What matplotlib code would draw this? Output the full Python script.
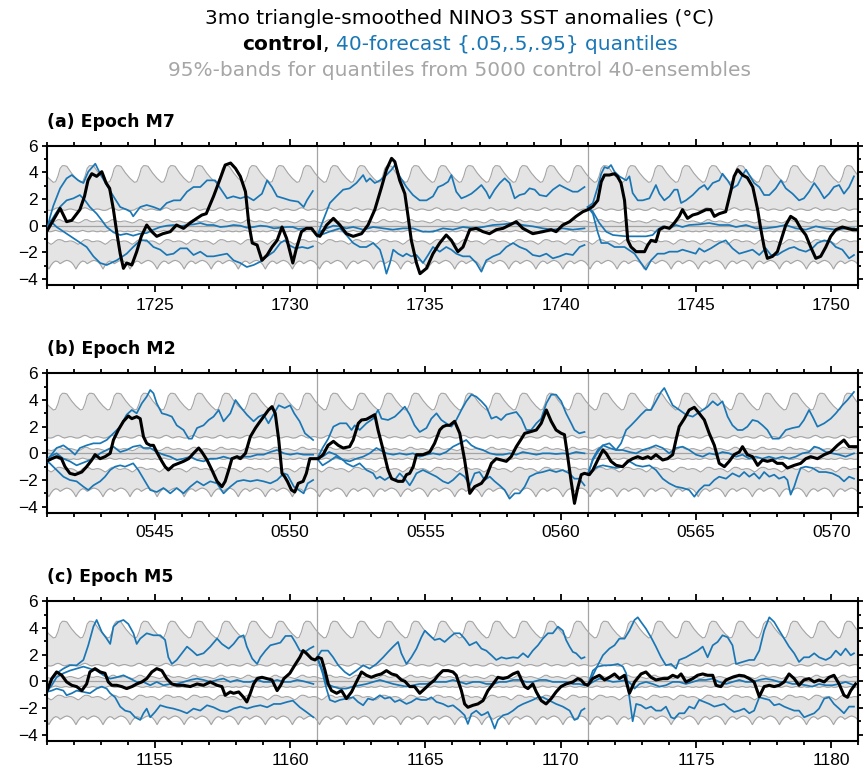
import numpy as np
import matplotlib
matplotlib.use("Agg")
import matplotlib.pyplot as plt
from matplotlib.ticker import MultipleLocator, FuncFormatter

BLUE = "#1a77b6"
FILL = "#e4e4e4"
EDGE = "#a4a4a4"
GRAYTXT = "#a6a6a6"

# monthly climatology (Jan..Dec) of the 95%-band edges, identical in all panels
band_up_hi = [3.75, 3.55, 3.4, 3.25, 3.3, 3.7, 4.3, 4.5, 4.5, 4.45, 4.2, 3.95]
band_up_lo = [1.2, 1.15, 1.15, 1.2, 1.3, 1.35, 1.3, 1.2, 1.15, 1.2, 1.25, 1.25]
band_md_hi = [0.3, 0.25, 0.2, 0.25, 0.35, 0.45, 0.45, 0.35, 0.3, 0.3, 0.35, 0.35]
band_md_lo = [-0.4, -0.45, -0.45, -0.4, -0.35, -0.4, -0.45, -0.45, -0.4, -0.4, -0.45, -0.45]
band_lo_hi = [-1.2, -1.3, -1.4, -1.3, -1.15, -1.05, -1.05, -1.1, -1.2, -1.2, -1.15, -1.15]
band_lo_lo = [-2.95, -3.25, -2.95, -2.75, -2.65, -2.7, -2.85, -2.75, -2.65, -2.6, -2.65, -2.75]

# ---------------- (a) Epoch M7 ----------------
a_ctl = [(1721.0,-0.45),(1721.5,1.3),(1721.74,0.3),(1721.93,0.4),(1722.23,1.2),(1722.4,2.2),(1722.53,3.4),
         (1722.67,3.9),(1722.85,3.7),(1723.04,4.05),(1723.2,3.2),(1723.33,2.8),(1723.47,1.2),(1723.6,-0.6),
         (1723.72,-2.1),(1723.84,-3.2),(1723.96,-2.8),(1724.15,-2.95),(1724.33,-1.95),(1724.5,-0.8),(1724.7,0.05),
         (1724.89,-0.45),(1725.07,-0.8),(1725.3,-0.6),(1725.57,-0.45),(1725.8,0.05),(1726.06,-0.2),(1726.3,0.2),
         (1726.55,0.55),(1726.74,0.8),(1726.9,0.9),(1727.17,2.2),(1727.42,3.55),(1727.6,4.55),(1727.8,4.7),
         (1727.98,4.3),(1728.16,3.7),(1728.35,2.55),(1728.47,0.2),(1728.6,-1.3),(1728.78,-1.45),(1728.96,-2.6),
         (1729.15,-2.2),(1729.33,-1.6),(1729.52,-1.1),(1729.7,-0.1),(1729.87,-0.95),(1730.1,-2.8),(1730.22,-1.8),
         (1730.42,-0.45),(1730.6,-0.2),(1730.79,-0.2),(1730.98,-0.7),(1731.1,-0.8),(1731.35,0.05),(1731.6,0.55),
         (1731.84,0.05),(1732.08,-0.6),(1732.33,-0.8),(1732.64,-0.6),(1732.88,0.05),(1733.13,1.2),(1733.38,2.9),
         (1733.56,4.2),(1733.75,5.05),(1733.87,4.8),(1734.05,3.4),(1734.24,2.4),(1734.36,0.7),(1734.48,-1.1),
         (1734.67,-2.8),(1734.8,-3.6),(1735.04,-3.2),(1735.28,-2.1),(1735.53,-1.3),(1735.77,-0.7),(1735.96,-1.1),
         (1736.2,-1.95),(1736.39,-1.6),(1736.64,-0.3),(1736.88,-0.2),(1737.13,-0.45),(1737.37,-0.6),(1737.62,-0.3),
         (1737.87,-0.2),(1738.11,0.05),(1738.36,0.3),(1738.6,-0.2),(1738.97,-0.6),(1739.34,-0.45),(1739.65,-0.3),
         (1739.83,-0.45),(1740.08,0.05),(1740.33,0.3),(1740.57,0.7),(1740.82,1.05),(1741.0,1.2),(1741.19,1.45),
         (1741.37,1.9),(1741.5,3.3),(1741.62,3.8),(1741.8,3.8),(1741.99,3.9),(1742.1,3.7),(1742.23,3.2),
         (1742.36,1.9),(1742.48,-1.1),(1742.6,-1.6),(1742.79,-1.95),(1743.1,-1.95),(1743.22,-1.45),(1743.34,-1.1),
         (1743.52,-1.2),(1743.65,-0.3),(1743.83,-0.1),(1744.02,-0.2),(1744.2,0.2),(1744.38,0.7),(1744.5,1.2),
         (1744.69,0.55),(1744.88,0.8),(1745.06,0.9),(1745.37,1.2),(1745.55,1.2),(1745.68,0.7),(1745.86,0.9),
         (1746.1,1.05),(1746.3,2.7),(1746.41,3.7),(1746.54,4.2),(1746.72,3.8),(1746.9,3.6),(1747.1,2.9),
         (1747.28,1.2),(1747.4,-0.3),(1747.52,-1.6),(1747.64,-2.45),(1747.83,-2.3),(1748.01,-1.95),(1748.14,-1.1),
         (1748.32,0.05),(1748.5,0.7),(1748.69,0.45),(1748.87,-0.2),(1749.06,-0.7),(1749.24,-1.6),(1749.43,-2.45),
         (1749.61,-2.3),(1749.8,-1.6),(1749.98,-0.8),(1750.17,-0.3),(1750.41,-0.1),(1750.6,-0.2),(1750.78,-0.3),
         (1750.97,-0.3)]

a1_hi = [(1721.0,-0.45),(1721.12,0.6),(1721.25,1.5),(1721.5,2.8),(1721.74,3.55),(1721.93,3.8),(1722.17,3.4),
         (1722.36,3.2),(1722.54,4.05),(1722.8,4.65),(1722.98,3.9),(1723.22,3.05),(1723.47,2.2),(1723.72,1.4),
         (1723.96,1.2),(1724.1,1.05),(1724.2,0.7),(1724.46,1.4),(1724.7,1.55),(1724.95,1.4),(1725.2,1.2),
         (1725.44,1.7),(1725.7,1.9),(1725.94,1.9),(1726.19,2.55),(1726.43,2.9),(1726.68,2.9),(1726.93,3.4),
         (1727.23,3.4),(1727.42,2.8),(1727.67,2.05),(1727.9,2.2),(1728.16,2.05),(1728.4,2.2),(1728.65,1.9),
         (1728.96,2.4),(1729.15,3.4),(1729.33,2.9),(1729.52,2.2),(1729.77,2.05),(1730.0,1.9),(1730.3,1.8),
         (1730.5,1.4),(1730.62,1.9),(1730.84,2.6)]
a1_md = [(1721.0,-0.45),(1721.12,0.2),(1721.3,0.8),(1721.49,1.4),(1721.74,1.9),(1721.99,2.05),(1722.23,2.3),
         (1722.42,1.9),(1722.6,1.4),(1722.85,0.9),(1723.04,0.4),(1723.22,-0.1),(1723.47,-0.5),(1723.72,-0.7),
         (1723.96,-0.6),(1724.2,-0.75),(1724.45,-0.6),(1724.7,-0.55),(1724.95,-0.3),(1725.2,-0.1),(1725.45,0.0),
         (1725.7,0.05),(1725.95,-0.05),(1726.19,0.05),(1726.44,0.1),(1726.68,0.2),(1726.93,0.05),(1727.17,0.05),
         (1727.42,-0.1),(1727.67,-0.05),(1727.91,0.05),(1728.16,0.0),(1728.4,-0.15),(1728.65,-0.1),(1728.9,0.0),
         (1729.15,-0.05),(1729.4,-0.2),(1729.64,-0.15),(1729.9,-0.1),(1730.1,-0.1),(1730.3,-0.25),(1730.5,-0.2),
         (1730.84,-0.25)]
a1_lo = [(1721.0,-0.45),(1721.12,0.4),(1721.37,-0.1),(1721.74,-0.6),(1722.11,-1.1),(1722.48,-1.6),(1722.73,-2.3),
         (1722.98,-2.8),(1723.22,-2.95),(1723.59,-2.6),(1723.96,-2.1),(1724.2,-1.6),(1724.46,-1.1),(1724.7,-1.1),
         (1724.95,-1.6),(1725.2,-1.8),(1725.44,-2.2),(1725.69,-2.1),(1725.94,-1.7),(1726.19,-1.7),(1726.43,-2.2),
         (1726.68,-1.95),(1726.93,-2.3),(1727.17,-2.3),(1727.42,-2.2),(1727.67,-2.1),(1727.91,-2.6),(1728.16,-2.8),
         (1728.4,-3.1),(1728.65,-2.95),(1728.9,-2.7),(1729.15,-2.3),(1729.4,-1.95),(1729.64,-1.3),(1729.8,-1.1),
         (1730.0,-1.5),(1730.2,-1.7),(1730.45,-1.6),(1730.65,-1.7),(1730.84,-1.55)]
a2_hi = [(1731.0,-0.8),(1731.22,0.4),(1731.47,1.7),(1731.71,2.2),(1731.96,2.7),(1732.2,2.8),(1732.45,3.2),
         (1732.7,3.8),(1732.82,3.3),(1732.95,3.55),(1733.13,3.2),(1733.32,3.4),(1733.56,3.8),(1733.75,4.2),
         (1733.87,4.55),(1734.05,3.7),(1734.3,2.9),(1734.54,2.3),(1734.79,1.9),(1735.04,1.9),(1735.28,2.2),
         (1735.47,2.9),(1735.65,3.05),(1735.84,3.3),(1735.96,3.8),(1736.14,2.55),(1736.33,2.05),(1736.51,2.2),
         (1736.7,2.4),(1736.88,2.7),(1737.07,3.05),(1737.25,2.55),(1737.37,2.05),(1737.56,2.7),(1737.75,3.2),
         (1737.93,3.55),(1738.11,3.2),(1738.3,2.05),(1738.48,2.3),(1738.67,2.4),(1738.85,2.8),(1739.04,2.7),
         (1739.22,2.3),(1739.47,2.2),(1739.71,2.7),(1739.96,3.05),(1740.2,2.8),(1740.45,2.55),(1740.63,2.55),
         (1740.88,2.9)]
a2_md = [(1731.0,-0.8),(1731.1,-0.45),(1731.35,-0.2),(1731.6,0.0),(1731.84,-0.05),(1732.08,-0.2),(1732.33,-0.1),
         (1732.7,-0.3),(1733.07,-0.1),(1733.44,-0.2),(1733.8,-0.3),(1734.17,-0.2),(1734.54,-0.2),(1734.91,-0.45),
         (1735.28,-0.45),(1735.65,-0.2),(1736.02,-0.3),(1736.39,-0.1),(1736.76,-0.2),(1737.13,-0.1),(1737.5,0.05),
         (1737.87,0.1),(1738.24,0.2),(1738.6,0.05),(1738.97,-0.05),(1739.34,-0.2),(1739.71,-0.3),(1740.08,-0.2),
         (1740.45,-0.3),(1740.88,-0.2)]
a2_lo = [(1731.0,-0.8),(1731.45,-0.45),(1731.84,-0.2),(1732.08,-0.7),(1732.33,-1.3),(1732.58,-1.6),(1732.82,-1.6),
         (1733.07,-1.3),(1733.32,-1.8),(1733.44,-2.6),(1733.56,-3.6),(1733.69,-2.8),(1733.81,-1.8),(1733.99,-2.1),
         (1734.17,-2.3),(1734.3,-2.1),(1734.48,-2.3),(1734.67,-2.2),(1734.91,-2.8),(1735.1,-2.2),(1735.28,-1.6),
         (1735.53,-1.95),(1735.77,-1.6),(1735.96,-1.8),(1736.14,-2.1),(1736.39,-2.3),(1736.64,-2.3),(1736.88,-2.8),
         (1737.07,-3.45),(1737.25,-2.6),(1737.5,-2.3),(1737.75,-2.1),(1737.99,-1.6),(1738.24,-1.3),(1738.48,-1.6),
         (1738.73,-1.8),(1738.97,-2.2),(1739.22,-2.3),(1739.47,-2.1),(1739.71,-2.45),(1739.96,-2.3),(1740.2,-2.1),
         (1740.45,-2.2),(1740.7,-1.6),(1740.88,-1.45)]
a3_hi = [(1741.0,1.4),(1741.19,1.7),(1741.37,2.9),(1741.5,3.9),(1741.62,4.4),(1741.74,4.3),(1741.86,4.55),
         (1741.99,4.05),(1742.17,3.7),(1742.42,3.4),(1742.54,3.7),(1742.66,2.45),(1742.85,1.9),(1743.03,1.9),
         (1743.28,2.05),(1743.52,3.05),(1743.65,2.4),(1743.83,1.9),(1744.02,2.2),(1744.2,2.7),(1744.32,2.7),
         (1744.45,1.7),(1744.63,1.9),(1744.88,2.3),(1745.12,2.8),(1745.31,3.05),(1745.43,2.7),(1745.62,3.2),
         (1745.86,3.4),(1745.98,3.9),(1746.17,3.4),(1746.35,2.8),(1746.54,3.05),(1746.72,3.8),(1746.85,4.2),
         (1746.97,3.8),(1747.15,3.2),(1747.34,2.9),(1747.52,2.3),(1747.71,2.3),(1747.95,2.8),(1748.14,3.4),
         (1748.32,2.8),(1748.57,2.4),(1748.81,1.9),(1748.99,2.05),(1749.18,2.55),(1749.37,3.2),(1749.55,2.7),
         (1749.74,2.05),(1749.92,2.4),(1750.1,2.9),(1750.29,3.05),(1750.47,2.4),(1750.66,2.9),(1750.84,3.7)]
a3_md = [(1741.0,1.4),(1741.19,1.05),(1741.43,0.2),(1741.68,-0.45),(1741.93,-0.7),(1742.17,-0.75),(1742.42,-0.8),
         (1742.79,-0.8),(1743.15,-0.8),(1743.4,-0.7),(1743.58,-0.3),(1743.77,-0.05),(1744.02,-0.2),(1744.26,0.05),
         (1744.5,-0.1),(1744.75,0.05),(1745.12,0.1),(1745.49,0.2),(1745.86,0.05),(1746.23,0.05),(1746.48,-0.1),
         (1746.85,0.05),(1747.21,-0.2),(1747.58,-0.2),(1747.95,-0.1),(1748.32,0.05),(1748.69,-0.2),(1749.06,-0.3),
         (1749.43,-0.05),(1749.8,-0.2),(1750.17,-0.3),(1750.54,-0.2),(1750.84,-0.2)]
a3_lo = [(1741.0,1.4),(1741.19,0.9),(1741.37,-0.5),(1741.5,-1.3),(1741.74,-1.3),(1741.99,-1.6),(1742.36,-1.6),
         (1742.73,-2.1),(1742.97,-2.8),(1743.15,-3.3),(1743.34,-2.6),(1743.58,-2.1),(1743.83,-2.1),(1744.02,-1.95),
         (1744.32,-1.95),(1744.5,-1.8),(1744.75,-1.95),(1744.99,-2.1),(1745.12,-1.7),(1745.31,-1.95),(1745.55,-1.7),
         (1745.86,-1.3),(1746.1,-1.1),(1746.35,-1.7),(1746.6,-2.1),(1746.85,-1.95),(1747.09,-1.8),(1747.34,-2.2),
         (1747.58,-1.7),(1747.77,-2.2),(1748.01,-2.2),(1748.2,-1.95),(1748.44,-1.7),(1748.63,-1.6),(1748.81,-1.8),
         (1749.06,-1.95),(1749.3,-1.7),(1749.49,-1.3),(1749.74,-1.1),(1749.98,-1.2),(1750.17,-1.6),(1750.41,-1.8),
         (1750.66,-2.45),(1750.84,-2.2)]

# ---------------- (b) Epoch M2 ----------------
b_ctl = [(541.0,-0.6),(541.19,-0.4),(541.37,-0.25),(541.55,-0.4),(541.68,-1.0),(541.86,-1.5),(542.05,-1.6),
         (542.3,-1.4),(542.48,-1.0),(542.67,-0.5),(542.79,-0.1),(542.98,-0.4),(543.16,-0.25),(543.35,0.0),
         (543.47,1.0),(543.65,1.75),(543.84,2.4),(544.02,2.8),(544.15,2.6),(544.33,2.75),(544.46,2.6),(544.58,1.25),
         (544.7,0.75),(544.83,0.6),(544.95,0.6),(545.07,0.1),(545.26,-0.6),(545.38,-1.0),(545.5,-1.25),(545.69,-0.9),
         (545.87,-0.75),(546.06,-0.6),(546.25,-0.4),(546.43,0.0),(546.62,0.4),(546.74,0.1),(546.93,-0.5),
         (547.11,-1.25),(547.3,-2.1),(547.48,-2.5),(547.6,-2.1),(547.73,-1.25),(547.85,-0.4),(548.04,-0.25),
         (548.16,-0.4),(548.35,0.0),(548.53,1.25),(548.72,1.9),(548.84,2.25),(549.02,2.75),(549.2,3.25),(549.33,3.5),
         (549.45,3.0),(549.58,1.0),(549.7,-1.5),(549.8,-1.75),(549.9,-2.1),(550.05,-2.75),(550.17,-2.9),
         (550.3,-2.25),(550.48,-2.1),(550.6,-1.5),(550.73,-0.4),(550.91,-0.4),(551.04,-0.4),(551.22,-0.1),
         (551.4,0.6),(551.6,0.9),(551.78,0.6),(551.96,0.4),(552.2,0.5),(552.33,1.0),(552.52,2.25),(552.64,2.5),
         (552.82,2.55),(553.0,2.75),(553.13,2.9),(553.25,1.75),(553.44,0.25),(553.62,-1.25),(553.75,-1.9),
         (553.99,-2.1),(554.17,-2.1),(554.3,-1.6),(554.42,-1.5),(554.55,-1.0),(554.67,-0.1),(554.91,-0.1),
         (555.16,0.1),(555.34,0.75),(555.53,1.75),(555.65,2.0),(555.77,2.1),(555.9,2.1),(556.08,2.4),(556.27,1.5),
         (556.45,-0.5),(556.64,-3.0),(556.82,-2.5),(557.07,-2.25),(557.25,-1.75),(557.44,-0.75),(557.62,-0.4),
         (557.8,-0.5),(557.99,-0.6),(558.17,-0.25),(558.36,0.5),(558.55,1.1),(558.67,1.5),(558.85,1.6),(559.1,1.75),
         (559.28,2.25),(559.47,3.25),(559.65,2.4),(559.83,1.75),(560.02,1.5),(560.14,1.4),(560.26,-0.25),
         (560.38,-2.0),(560.51,-3.75),(560.63,-2.6),(560.76,-1.6),(560.88,-1.5),(561.06,-1.6),(561.19,-1.25),
         (561.37,-0.5),(561.56,0.25),(561.68,0.0),(561.86,-0.6),(562.05,-0.9),(562.29,-1.0),(562.48,-0.6),
         (562.66,-0.4),(562.85,-0.25),(563.03,-0.4),(563.22,-0.25),(563.34,-0.4),(563.52,-0.1),(563.77,-0.5),
         (563.95,-0.4),(564.14,-0.1),(564.26,1.0),(564.38,2.0),(564.57,2.6),(564.75,3.25),(564.94,3.45),
         (565.12,3.0),(565.31,2.5),(565.49,1.5),(565.68,0.6),(565.86,-0.75),(566.05,-1.0),(566.23,-0.6),
         (566.41,-0.1),(566.6,0.1),(566.72,0.5),(566.9,-0.1),(567.09,-0.25),(567.28,-0.9),(567.46,-0.5),
         (567.64,-0.6),(567.83,-0.5),(568.0,-0.75),(568.2,-0.75),(568.38,-1.1),(568.63,-0.9),(568.87,-0.75),
         (569.06,-0.4),(569.24,-0.25),(569.49,-0.4),(569.74,-0.1),(569.98,0.1),(570.23,0.6),(570.47,1.0),
         (570.66,0.5),(570.9,0.5)]

b1_hi = [(541.0,-0.6),(541.12,-0.25),(541.37,0.4),(541.62,0.6),(541.86,0.25),(542.05,-0.1),(542.23,0.4),
         (542.48,0.6),(542.73,0.75),(542.98,0.75),(543.22,1.0),(543.47,1.5),(543.72,2.0),(543.96,2.9),(544.15,3.25),
         (544.33,3.0),(544.52,3.75),(544.7,4.25),(544.83,4.75),(544.95,4.5),(545.07,3.75),(545.26,3.0),
         (545.44,2.9),(545.63,2.75),(545.81,2.1),(546.06,1.75),(546.25,1.1),(546.37,1.1),(546.56,1.9),(546.8,2.1),
         (546.99,2.5),(547.17,2.75),(547.36,3.25),(547.54,2.4),(547.79,3.0),(547.98,4.0),(548.16,3.5),(548.4,2.9),
         (548.65,2.4),(548.84,2.75),(549.02,2.9),(549.2,2.25),(549.38,2.9),(549.58,3.6),(549.8,3.4),(550.0,3.6),
         (550.15,3.0),(550.35,2.4),(550.55,1.5),(550.85,1.0)]
b1_md = [(541.0,-0.6),(541.12,-0.25),(541.37,0.0),(541.62,-0.4),(541.86,-0.6),(542.11,-0.9),(542.48,-0.6),
         (542.73,-0.4),(542.98,0.0),(543.22,0.25),(543.47,0.5),(543.72,0.1),(543.96,0.25),(544.2,0.5),(544.46,0.6),
         (544.58,0.4),(544.83,0.4),(545.07,0.1),(545.32,-0.1),(545.57,-0.25),(545.81,-0.5),(546.06,-0.4),
         (546.31,-0.25),(546.56,-0.5),(546.8,-0.6),(547.05,-0.4),(547.3,-0.4),(547.54,-0.25),(547.79,-0.4),
         (548.04,-0.25),(548.28,-0.25),(548.53,-0.25),(548.78,-0.1),(549.02,-0.1),(549.27,0.1),(549.52,0.25),
         (549.77,0.0),(550.01,-0.1),(550.26,0.0),(550.5,-0.1),(550.85,-0.1)]
b1_lo = [(541.0,-0.6),(541.12,-0.75),(541.37,-1.25),(541.62,-1.75),(541.86,-2.0),(542.11,-2.1),(542.36,-2.5),
         (542.54,-2.75),(542.73,-2.4),(542.98,-2.1),(543.16,-1.75),(543.35,-1.25),(543.53,-1.0),(543.72,-0.9),
         (543.9,-1.0),(544.02,-0.9),(544.2,-0.75),(544.39,-1.25),(544.58,-1.9),(544.83,-2.75),(545.07,-2.9),
         (545.32,-2.6),(545.57,-3.0),(545.81,-2.6),(546.06,-3.0),(546.31,-2.5),(546.56,-2.1),(546.8,-2.4),
         (547.05,-2.1),(547.3,-2.25),(547.54,-3.0),(547.79,-2.5),(548.04,-2.1),(548.28,-2.0),(548.53,-2.1),
         (548.78,-2.0),(549.02,-2.1),(549.27,-2.25),(549.52,-2.0),(549.77,-1.5),(549.9,-1.6),(550.14,-2.5),
         (550.32,-2.75),(550.5,-3.0),(550.65,-2.25),(550.85,-2.0)]
b2_hi = [(551.0,-0.4),(551.2,0.4),(551.41,1.1),(551.6,2.0),(551.84,2.25),(552.08,2.25),(552.27,1.75),(552.39,2.1),
         (552.57,1.75),(552.82,2.25),(553.07,2.6),(553.25,3.25),(553.38,2.6),(553.62,2.5),(553.87,2.75),(554.05,3.1),
         (554.24,3.5),(554.42,2.9),(554.6,2.1),(554.79,1.6),(555.04,1.9),(555.22,2.6),(555.41,3.0),(555.59,2.5),
         (555.77,2.25),(555.96,2.0),(556.14,2.5),(556.33,3.25),(556.51,3.9),(556.7,4.4),(556.88,4.25),(557.07,3.9),
         (557.25,3.5),(557.44,2.6),(557.62,2.75),(557.8,2.5),(557.99,2.9),(558.17,3.0),(558.36,3.1),(558.55,2.6),
         (558.73,1.75),(558.91,1.75),(559.1,2.25),(559.28,2.6),(559.47,3.75),(559.65,4.4),(559.83,4.4),(560.02,3.9),
         (560.2,3.0),(560.39,2.25),(560.51,1.75),(560.69,1.5),(560.88,1.6)]
b2_md = [(551.0,-0.4),(551.2,-0.25),(551.44,0.1),(551.69,-0.1),(551.96,-0.5),(552.2,-0.6),(552.45,-0.4),
         (552.7,-0.25),(552.94,0.0),(553.19,0.4),(553.32,0.25),(553.56,0.0),(553.81,-0.1),(554.05,0.0),(554.3,-0.1),
         (554.54,0.0),(554.79,-0.25),(555.04,-0.1),(555.28,0.0),(555.53,-0.1),(555.77,0.1),(556.02,0.5),
         (556.27,0.75),(556.51,1.0),(556.7,0.6),(556.88,0.4),(557.13,0.25),(557.38,0.0),(557.62,-0.1),(557.87,-0.1),
         (558.11,0.0),(558.36,-0.1),(558.6,0.1),(558.85,0.0),(559.1,-0.1),(559.34,0.0),(559.59,0.0),(559.83,-0.05),
         (560.08,0.0),(560.32,-0.05),(560.57,0.1),(560.88,0.0)]
b2_lo = [(551.0,-0.4),(551.2,-0.9),(551.44,-0.6),(551.69,-0.25),(551.96,-0.5),(552.08,-0.75),(552.33,-1.0),
         (552.57,-0.75),(552.82,-1.25),(553.07,-1.5),(553.19,-1.9),(553.32,-1.75),(553.5,-2.0),(553.69,-1.75),
         (553.87,-2.0),(554.05,-1.5),(554.24,-1.9),(554.42,-2.4),(554.54,-2.0),(554.67,-1.5),(554.91,-1.25),
         (555.16,-1.5),(555.41,-1.75),(555.65,-2.1),(555.84,-2.25),(556.02,-2.0),(556.27,-1.5),(556.45,-1.75),
         (556.64,-2.4),(556.82,-1.5),(557.0,-1.4),(557.19,-2.0),(557.38,-1.75),(557.56,-2.1),(557.74,-2.4),
         (557.93,-2.75),(558.11,-3.4),(558.3,-3.0),(558.48,-3.0),(558.67,-2.5),(558.85,-1.75),(559.1,-1.5),
         (559.34,-1.4),(559.59,-1.25),(559.83,-1.4),(560.08,-1.25),(560.32,-1.5),(560.51,-1.9),(560.69,-1.9),
         (560.88,-2.4)]
b3_hi = [(561.0,-1.6),(561.19,-0.5),(561.37,0.1),(561.56,0.6),(561.8,0.75),(562.05,0.25),(562.23,0.75),
         (562.42,1.75),(562.6,2.1),(562.79,2.5),(562.97,2.9),(563.15,3.25),(563.34,3.25),(563.52,3.9),(563.71,4.6),
         (563.83,4.9),(563.95,4.4),(564.14,3.6),(564.39,3.25),(564.63,2.9),(564.88,2.75),(565.06,3.0),(565.25,3.25),
         (565.43,3.5),(565.62,3.9),(565.8,3.6),(565.98,3.9),(566.17,2.75),(566.35,2.1),(566.54,1.75),(566.72,1.75),
         (566.9,2.0),(567.09,2.5),(567.28,2.4),(567.46,2.1),(567.64,1.75),(567.83,1.1),(568.07,1.1),(568.32,1.75),
         (568.57,1.9),(568.81,2.0),(568.99,2.5),(569.18,3.25),(569.31,2.75),(569.49,2.0),(569.74,2.25),(569.98,2.6),
         (570.17,3.0),(570.41,3.6),(570.6,4.0),(570.84,4.6)]
b3_md = [(561.0,-1.6),(561.19,-0.4),(561.37,0.25),(561.56,0.6),(561.8,0.4),(562.05,0.25),(562.29,0.25),
         (562.54,0.1),(562.79,0.0),(563.03,0.25),(563.28,0.4),(563.52,0.6),(563.77,0.4),(564.01,0.0),(564.26,0.4),
         (564.51,0.5),(564.75,0.25),(565.0,-0.1),(565.25,-0.25),(565.49,0.0),(565.74,-0.1),(565.98,0.1),
         (566.23,0.0),(566.48,-0.25),(566.72,-0.1),(566.97,-0.4),(567.21,-0.25),(567.46,-0.4),(567.7,-0.25),
         (567.95,-0.4),(568.2,-0.25),(568.44,-0.4),(568.69,-0.25),(568.93,0.0),(569.18,0.1),(569.37,0.5),
         (569.55,0.4),(569.8,0.1),(570.04,0.0),(570.29,-0.1),(570.53,-0.25),(570.84,0.0)]
b3_lo = [(561.0,-1.6),(561.19,-1.25),(561.37,-1.0),(561.56,-0.9),(561.8,-1.0),(562.05,-1.1),(562.29,-1.0),
         (562.54,-0.6),(562.79,-0.9),(563.03,-1.0),(563.28,-0.9),(563.52,-1.25),(563.77,-1.9),(564.01,-2.25),
         (564.26,-2.5),(564.51,-2.6),(564.75,-2.75),(564.94,-3.25),(565.12,-2.75),(565.31,-2.4),(565.49,-2.4),
         (565.68,-2.0),(565.86,-1.75),(566.11,-1.9),(566.35,-1.5),(566.6,-1.75),(566.78,-1.4),(566.97,-1.75),
         (567.15,-1.5),(567.34,-1.9),(567.52,-1.4),(567.71,-1.75),(567.89,-1.6),(568.07,-1.9),(568.26,-1.75),
         (568.38,-2.0),(568.5,-3.1),(568.63,-2.5),(568.75,-1.75),(568.87,-1.1),(569.06,-1.0),(569.31,-1.1),
         (569.55,-1.4),(569.8,-1.4),(570.04,-1.5),(570.29,-1.75),(570.47,-2.1),(570.66,-1.75),(570.84,-1.9)]

# ---------------- (c) Epoch M5 ----------------
c_ctl = [(1151.0,-0.8),(1151.19,0.2),(1151.37,0.7),(1151.56,0.45),(1151.74,-0.05),(1151.93,-0.3),(1152.11,-0.4),
         (1152.3,-0.7),(1152.48,-0.2),(1152.6,0.7),(1152.79,0.95),(1152.98,0.7),(1153.16,0.6),(1153.28,-0.05),
         (1153.41,-0.3),(1153.59,-0.3),(1153.78,-0.4),(1153.96,-0.55),(1154.15,-0.4),(1154.33,-0.2),(1154.52,-0.05),
         (1154.7,0.2),(1154.89,0.7),(1155.07,0.95),(1155.26,0.8),(1155.44,0.2),(1155.63,-0.2),(1155.81,-0.3),
         (1156.06,-0.3),(1156.31,-0.4),(1156.56,-0.2),(1156.8,-0.3),(1157.05,-0.05),(1157.3,-0.3),(1157.48,-0.4),
         (1157.6,-1.05),(1157.79,-0.8),(1157.91,-0.9),(1158.1,-0.8),(1158.28,-1.2),(1158.4,-1.55),(1158.53,-0.9),
         (1158.65,-0.2),(1158.78,0.2),(1158.96,0.3),(1159.15,0.2),(1159.33,0.1),(1159.52,-0.7),(1159.65,-0.3),
         (1159.77,0.2),(1159.99,0.6),(1160.17,1.2),(1160.36,1.8),(1160.48,2.3),(1160.6,2.1),(1160.79,1.7),
         (1160.92,1.6),(1161.04,1.8),(1161.16,1.7),(1161.29,0.8),(1161.41,-0.2),(1161.53,-0.7),(1161.72,-0.9),
         (1161.9,-0.7),(1162.08,-1.3),(1162.27,-0.8),(1162.45,-0.05),(1162.64,0.7),(1162.82,0.45),(1163.0,0.3),
         (1163.19,0.45),(1163.37,0.55),(1163.56,0.8),(1163.75,0.55),(1163.93,0.45),(1164.11,0.1),(1164.24,0.0),
         (1164.42,-0.4),(1164.6,-0.4),(1164.79,-0.9),(1164.98,-0.55),(1165.16,-0.2),(1165.34,0.1),(1165.47,0.45),
         (1165.65,0.8),(1165.84,0.8),(1166.02,0.7),(1166.14,0.45),(1166.33,-0.7),(1166.45,-1.7),(1166.57,-1.95),
         (1166.76,-1.8),(1166.94,-1.7),(1167.13,-1.45),(1167.31,-0.7),(1167.5,-0.2),(1167.68,0.3),(1167.87,0.2),
         (1168.05,0.3),(1168.24,0.55),(1168.42,0.7),(1168.55,0.1),(1168.67,-0.4),(1168.79,-0.55),(1168.97,-0.2),
         (1169.1,-0.8),(1169.28,-1.45),(1169.46,-1.7),(1169.65,-1.3),(1169.83,-0.8),(1170.01,-0.4),(1170.2,-0.2),
         (1170.45,-0.05),(1170.63,0.2),(1170.75,0.1),(1170.88,-0.2),(1171.0,-0.3),(1171.18,0.2),(1171.43,0.45),
         (1171.62,0.1),(1171.8,0.3),(1171.99,0.55),(1172.17,0.2),(1172.36,0.45),(1172.54,-0.9),(1172.73,-0.05),
         (1172.97,0.55),(1173.15,0.7),(1173.34,0.3),(1173.52,0.1),(1173.77,0.2),(1173.95,0.2),(1174.14,0.45),
         (1174.32,0.3),(1174.45,0.55),(1174.63,-0.05),(1174.88,0.2),(1175.06,0.45),(1175.25,0.55),(1175.43,0.45),
         (1175.62,0.45),(1175.74,-0.3),(1175.92,-0.4),(1176.11,0.1),(1176.35,0.3),(1176.6,0.45),(1176.78,0.4),
         (1176.97,0.2),(1177.15,-0.05),(1177.34,-1.15),(1177.52,-0.4),(1177.71,-0.3),(1177.89,-0.4),(1178.08,-0.3),
         (1178.26,-0.05),(1178.44,0.55),(1178.63,0.2),(1178.81,-0.3),(1178.99,0.1),(1179.18,0.2),(1179.37,-0.05),
         (1179.55,0.1),(1179.74,-0.05),(1179.92,0.3),(1180.1,0.45),(1180.29,-0.2),(1180.47,-1.05),(1180.6,-1.2),
         (1180.72,-0.7),(1180.9,-0.2)]

c1_hi = [(1151.0,-0.8),(1151.19,0.1),(1151.37,0.6),(1151.62,0.95),(1151.86,1.2),(1152.11,1.2),(1152.36,1.6),
         (1152.54,2.7),(1152.73,4.1),(1152.85,4.6),(1153.04,3.7),(1153.22,3.2),(1153.35,2.8),(1153.47,4.1),
         (1153.65,4.45),(1153.84,4.6),(1154.02,4.3),(1154.21,3.6),(1154.33,2.8),(1154.46,3.2),(1154.7,3.6),
         (1154.95,3.45),(1155.2,3.45),(1155.38,3.1),(1155.5,1.8),(1155.63,1.3),(1155.81,1.6),(1156.0,2.1),
         (1156.19,2.6),(1156.37,2.3),(1156.56,1.95),(1156.8,2.1),(1157.05,2.6),(1157.3,3.2),(1157.48,2.8),
         (1157.73,2.45),(1157.91,2.8),(1158.1,3.3),(1158.28,3.45),(1158.4,2.6),(1158.6,1.7),(1158.78,1.3),
         (1158.9,1.8),(1159.09,2.3),(1159.27,2.7),(1159.46,2.8),(1159.64,2.9),(1159.83,3.4),(1160.05,3.4),
         (1160.2,2.9),(1160.36,2.3),(1160.55,2.2),(1160.72,2.45),(1160.86,2.6)]
c1_md = [(1151.0,-0.8),(1151.19,-0.3),(1151.37,0.3),(1151.62,0.6),(1151.86,0.8),(1152.11,0.95),(1152.36,1.1),
         (1152.6,0.95),(1152.85,0.8),(1153.1,0.45),(1153.35,0.2),(1153.59,0.3),(1153.84,0.45),(1154.09,0.2),
         (1154.33,-0.05),(1154.58,-0.05),(1154.83,-0.3),(1155.07,-0.05),(1155.32,-0.3),(1155.57,-0.2),
         (1155.81,-0.2),(1156.06,-0.05),(1156.31,0.1),(1156.56,0.2),(1156.8,0.1),(1157.05,-0.05),(1157.3,0.1),
         (1157.54,0.2),(1157.79,-0.05),(1158.04,0.1),(1158.28,-0.05),(1158.53,-0.05),(1158.78,0.1),(1159.02,-0.05),
         (1159.27,-0.05),(1159.52,0.1),(1159.77,-0.05),(1160.01,-0.05),(1160.26,0.1),(1160.5,0.0),(1160.86,-0.2)]
c1_lo = [(1151.0,-0.8),(1151.19,-0.7),(1151.37,-0.55),(1151.62,-0.7),(1151.74,-1.05),(1151.93,-0.9),(1152.11,-0.7),
         (1152.36,-0.8),(1152.6,-0.9),(1152.85,-0.55),(1153.04,-0.4),(1153.22,-0.55),(1153.35,-0.9),(1153.53,-1.2),
         (1153.72,-1.9),(1153.9,-2.2),(1154.09,-2.3),(1154.27,-2.7),(1154.46,-2.9),(1154.58,-2.4),(1154.7,-2.05),
         (1154.83,-2.7),(1155.01,-2.3),(1155.2,-1.8),(1155.44,-1.95),(1155.69,-2.05),(1155.94,-2.2),(1156.19,-2.4),
         (1156.43,-2.05),(1156.68,-2.2),(1156.93,-1.8),(1157.17,-1.95),(1157.42,-2.2),(1157.67,-2.3),(1157.91,-2.05),
         (1158.16,-1.9),(1158.41,-2.05),(1158.65,-1.9),(1158.9,-1.8),(1159.15,-1.95),(1159.4,-1.7),(1159.64,-1.7),
         (1159.89,-1.55),(1160.1,-1.45),(1160.36,-1.95),(1160.6,-2.3),(1160.86,-2.7)]
c2_hi = [(1161.0,1.8),(1161.16,2.3),(1161.4,2.3),(1161.59,1.8),(1161.78,1.2),(1162.02,0.7),(1162.2,0.45),
         (1162.45,0.8),(1162.7,1.2),(1162.94,0.95),(1163.19,1.3),(1163.44,1.8),(1163.62,2.2),(1163.81,2.6),
         (1163.99,2.95),(1164.11,2.1),(1164.3,1.3),(1164.48,1.8),(1164.67,2.45),(1164.85,3.3),(1164.98,3.8),
         (1165.16,3.45),(1165.34,3.1),(1165.53,3.2),(1165.71,2.95),(1165.9,3.3),(1166.08,3.6),(1166.27,3.6),
         (1166.45,3.2),(1166.63,2.7),(1166.88,2.95),(1167.07,2.45),(1167.25,2.3),(1167.44,1.95),(1167.62,1.6),
         (1167.81,1.8),(1167.99,1.7),(1168.24,1.8),(1168.42,1.75),(1168.61,2.1),(1168.79,1.8),(1168.97,2.3),
         (1169.16,2.7),(1169.34,3.2),(1169.53,3.6),(1169.71,3.6),(1169.9,4.1),(1170.08,3.8),(1170.2,3.1),
         (1170.33,2.6),(1170.45,2.2),(1170.57,2.1),(1170.76,1.7),(1170.88,1.8)]
c2_md = [(1161.0,1.8),(1161.2,0.8),(1161.35,-0.2),(1161.59,-0.4),(1161.84,-0.55),(1162.08,-0.55),(1162.33,-0.4),
         (1162.58,-0.3),(1162.82,-0.2),(1163.07,-0.05),(1163.32,0.1),(1163.56,-0.05),(1163.81,-0.2),(1164.05,-0.3),
         (1164.3,-0.4),(1164.54,-0.3),(1164.79,-0.2),(1165.04,-0.2),(1165.28,-0.05),(1165.53,-0.05),
         (1165.77,-0.05),(1166.02,0.1),(1166.27,-0.05),(1166.51,-0.2),(1166.76,-0.05),(1167.0,-0.05),(1167.25,-0.2),
         (1167.5,-0.2),(1167.74,-0.05),(1167.99,-0.05),(1168.24,0.1),(1168.48,0.1),(1168.73,-0.05),(1168.97,-0.05),
         (1169.22,0.1),(1169.46,0.1),(1169.71,-0.05),(1169.96,-0.05),(1170.2,-0.05),(1170.45,-0.2),(1170.69,-0.2),
         (1170.88,-0.3)]
c2_lo = [(1161.0,1.8),(1161.2,0.6),(1161.35,-0.6),(1161.47,-1.4),(1161.66,-1.55),(1161.84,-1.4),(1162.08,-1.3),
         (1162.33,-1.2),(1162.51,-1.55),(1162.7,-1.8),(1162.88,-1.3),(1163.07,-1.4),(1163.32,-1.05),(1163.5,-1.3),
         (1163.69,-1.2),(1163.87,-1.55),(1164.05,-1.4),(1164.3,-1.7),(1164.48,-1.55),(1164.67,-1.3),(1164.85,-1.4),
         (1165.04,-1.4),(1165.22,-1.2),(1165.41,-1.55),(1165.65,-1.7),(1165.84,-1.9),(1166.02,-1.8),(1166.27,-2.2),
         (1166.45,-2.55),(1166.57,-3.2),(1166.7,-2.45),(1166.88,-2.2),(1167.07,-2.55),(1167.19,-2.45),(1167.31,-2.3),
         (1167.44,-2.9),(1167.56,-3.55),(1167.68,-2.9),(1167.87,-2.55),(1168.05,-2.45),(1168.24,-2.2),(1168.42,-1.9),
         (1168.61,-1.7),(1168.79,-1.55),(1168.97,-1.4),(1169.16,-1.2),(1169.34,-1.2),(1169.59,-1.45),(1169.83,-1.7),
         (1170.08,-1.9),(1170.33,-2.2),(1170.51,-2.9),(1170.63,-2.8),(1170.76,-2.2),(1170.88,-2.05)]
c3_hi = [(1171.0,-0.3),(1171.19,0.45),(1171.37,1.2),(1171.56,1.95),(1171.8,2.45),(1171.99,2.7),(1172.17,3.2),
         (1172.36,3.2),(1172.54,3.8),(1172.73,4.6),(1172.85,4.8),(1172.97,4.45),(1173.15,3.95),(1173.34,3.3),
         (1173.52,2.6),(1173.71,1.8),(1173.89,1.2),(1174.08,1.3),(1174.26,0.95),(1174.38,1.6),(1174.63,1.8),
         (1174.88,2.1),(1175.06,2.3),(1175.25,2.6),(1175.43,1.8),(1175.62,2.7),(1175.8,2.95),(1175.98,3.45),
         (1176.17,3.3),(1176.35,2.7),(1176.48,1.3),(1176.72,1.45),(1176.97,1.6),(1177.15,1.6),(1177.34,2.3),
         (1177.52,3.8),(1177.71,4.8),(1177.89,4.45),(1178.08,3.8),(1178.26,3.2),(1178.44,2.6),(1178.63,2.1),
         (1178.81,1.45),(1178.99,1.8),(1179.18,1.8),(1179.37,2.1),(1179.55,1.8),(1179.8,1.6),(1179.98,1.8),
         (1180.17,2.3),(1180.35,1.95),(1180.53,2.45),(1180.72,1.95),(1180.84,2.1)]
c3_md = [(1171.0,-0.3),(1171.19,0.8),(1171.37,1.1),(1171.62,1.2),(1171.86,1.2),(1172.11,1.3),(1172.3,1.1),
         (1172.42,0.6),(1172.54,-1.2),(1172.66,-3.0),(1172.79,-1.7),(1172.97,-1.8),(1173.15,-2.05),(1173.34,-1.9),
         (1173.52,-2.2),(1173.71,-2.2),(1173.89,-1.9),(1174.08,-2.7),(1174.2,-2.8),(1174.38,-2.4),(1174.57,-2.4),
         (1174.75,-1.9),(1174.94,-2.05),(1175.12,-1.4),(1175.31,-1.55),(1175.49,-1.7),(1175.68,-1.9),(1175.86,-1.8),
         (1176.04,-1.7),(1176.23,-2.05),(1176.41,-2.3),(1176.6,-2.2),(1176.78,-2.05),(1176.97,-2.4),(1177.15,-2.2),
         (1177.34,-1.2),(1177.52,-1.3),(1177.71,-1.4),(1177.89,-1.8),(1178.08,-1.7),(1178.26,-1.9),(1178.44,-2.05),
         (1178.63,-2.2),(1178.81,-2.2),(1179.0,-2.7),(1179.18,-2.55),(1179.37,-2.4),(1179.55,-2.05),(1179.74,-1.3),
         (1179.92,-1.2),(1180.1,-1.7),(1180.29,-2.05),(1180.47,-2.4),(1180.66,-1.9),(1180.84,-1.9)]
c3_lo = [(1171.0,-0.3),(1171.19,-0.05),(1171.43,0.2),(1171.68,0.1),(1171.93,-0.05),(1172.17,0.0),(1172.42,0.1),
         (1172.6,-0.2),(1172.73,-0.55),(1172.91,-0.2),(1173.15,-0.05),(1173.4,-0.2),(1173.65,-0.4),(1173.89,-0.3),
         (1174.14,-0.05),(1174.38,-0.05),(1174.63,-0.2),(1174.88,-0.05),(1175.12,0.1),(1175.37,0.1),(1175.62,0.2),
         (1175.86,-0.05),(1176.11,-0.2),(1176.35,-0.05),(1176.6,0.1),(1176.84,-0.05),(1177.09,-0.05),(1177.34,0.1),
         (1177.58,0.2),(1177.83,0.1),(1178.08,-0.05),(1178.32,-0.05),(1178.57,-0.2),(1178.81,-0.2),(1179.06,-0.3),
         (1179.3,-0.4),(1179.55,-0.2),(1179.8,-0.3),(1180.04,-0.3),(1180.29,-0.2),(1180.53,-0.05),(1180.84,-0.3)]

panels = [
    ("(a) Epoch M7", 1721, a_ctl, [a1_hi, a1_md, a1_lo, a2_hi, a2_md, a2_lo, a3_hi, a3_md, a3_lo]),
    ("(b) Epoch M2", 541, b_ctl, [b1_hi, b1_md, b1_lo, b2_hi, b2_md, b2_lo, b3_hi, b3_md, b3_lo]),
    ("(c) Epoch M5", 1151, c_ctl, [c1_hi, c1_md, c1_lo, c2_hi, c2_md, c2_lo, c3_hi, c3_md, c3_lo]),
]

W, H = 865, 770
fig = plt.figure(figsize=(W / 100, H / 100), dpi=100)
plt.rcParams['font.family'] = ['DejaVu Sans']

# axes boxes in pixels: left, top, right, bottom
boxes = [(46.6, 145.7, 858.3, 285.0), (46.6, 373.3, 858.3, 512.7), (46.6, 601.3, 858.3, 740.6)]

for (title, start, ctl, blues), (l, t, r, b) in zip(panels, boxes):
    ax = fig.add_axes([l / W, 1 - b / H, (r - l) / W, (b - t) / H])
    tm = start + np.arange(361) / 12.0
    for lo, hi in [(band_up_lo, band_up_hi), (band_md_lo, band_md_hi), (band_lo_lo, band_lo_hi)]:
        lo_v = np.tile(lo, 31)[:361]
        hi_v = np.tile(hi, 31)[:361]
        ax.fill_between(tm, lo_v, hi_v, color=FILL, lw=0, zorder=1)
        ax.plot(tm, lo_v, color=EDGE, lw=0.8, zorder=2)
        ax.plot(tm, hi_v, color=EDGE, lw=0.8, zorder=2)
    ax.axhline(0, color=EDGE, lw=0.9, zorder=2)
    for k in (1, 2):
        ax.axvline(start + 10 * k, color=EDGE, lw=0.9, zorder=2)
    for s in blues:
        xs, ys = zip(*s)
        ax.plot(xs, ys, color=BLUE, lw=1.25, zorder=3)
    xs, ys = zip(*ctl)
    ax.plot(xs, ys, color="black", lw=2.2, zorder=4, solid_joinstyle="round")

    ax.set_xlim(start, start + 30)
    ax.set_ylim(-4.45, 6)
    ax.xaxis.set_major_locator(MultipleLocator(5))
    ax.xaxis.set_minor_locator(MultipleLocator(1))
    ax.yaxis.set_major_locator(MultipleLocator(2))
    ax.yaxis.set_minor_locator(MultipleLocator(1))
    ax.xaxis.set_major_formatter(FuncFormatter(lambda v, p: f"{int(round(v)):04d}"))
    ax.tick_params(axis="both", which="both", direction="out", top=True, right=True, width=1.3)
    ax.tick_params(axis="x", which="major", length=5.2, pad=4)
    ax.tick_params(axis="x", which="minor", length=2.9)
    ax.tick_params(axis="y", which="major", length=3.6, pad=2.5)
    ax.tick_params(axis="y", which="minor", length=2.4)
    for lab in ax.get_xticklabels() + ax.get_yticklabels():
        lab.set_fontfamily("Liberation Sans")
        lab.set_fontsize(12.5)
    for sp in ax.spines.values():
        sp.set_linewidth(1.5)
    ax.text(0.0, 1.0 + 24 / (b - t), title, transform=ax.transAxes, ha="left", va="center",
            fontsize=12.5, fontweight="bold")

# three-line header, the second line is multi-coloured
renderer = fig.canvas.get_renderer()
xc = 460 / W


def centered_line(y, pieces, size):
    objs = [fig.text(0, y, s, fontsize=size, fontweight=w, color=c, ha="left", va="center")
            for s, w, c in pieces]
    widths = [o.get_window_extent(renderer).width for o in objs]
    x = xc * W - sum(widths) / 2
    for o, wd in zip(objs, widths):
        o.set_x(x / W)
        x += wd


centered_line(1 - 18 / H, [("3mo triangle-smoothed NINO3 SST anomalies (\u00b0C)", "normal", "black")], 14.5)
centered_line(1 - 45 / H, [("control", "bold", "black"), (", ", "normal", "black"),
                           ("40-forecast {.05,.5,.95} quantiles", "normal", BLUE)], 14.5)
centered_line(1 - 70 / H, [("95%-bands for quantiles from 5000 control 40-ensembles", "normal", GRAYTXT)], 14.5)

fig.savefig("out.png", dpi=100)
